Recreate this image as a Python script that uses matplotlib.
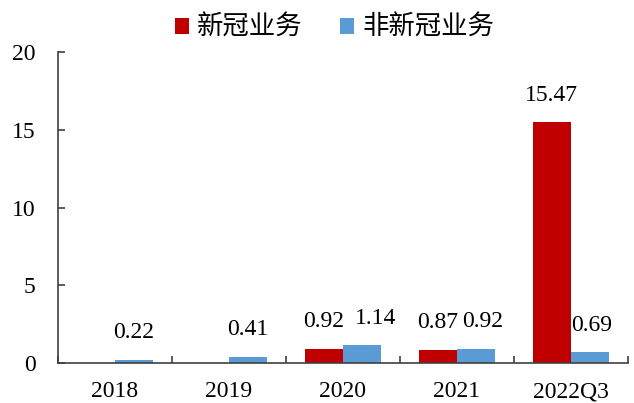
import matplotlib.pyplot as plt
import numpy as np

plt.rcParams['font.family'] = ['Liberation Serif', 'Noto Sans CJK SC']

categories = ['2018', '2019', '2020', '2021', '2022Q3']
covid = [None, None, 0.92, 0.87, 15.47]
non_covid = [0.22, 0.41, 1.14, 0.92, 0.69]
series_names = ['新冠业务', '非新冠业务']

red = '#C00000'
blue = '#5B9BD5'

# labels nudged sideways (points) where two values sit close together
non_covid_shift = [0, 0, 10, 5, 1]

fig = plt.figure(figsize=(6.34, 4.03), dpi=100)
ax = fig.add_axes([0.0915, 0.099, 0.899, 0.772])

x = np.arange(len(categories))
w = 0.335

cov_x = [xi for xi, v in zip(x, covid) if v is not None]
cov_v = [v for v in covid if v is not None]
ax.bar(np.array(cov_x) - w / 2, cov_v, w, color=red, label=series_names[0])
ax.bar(x + w / 2, non_covid, w, color=blue, label=series_names[1])

for bx, v in zip(cov_x, cov_v):
    ax.annotate(f'{v:.2f}', (bx - w / 2, v), xytext=(0, 12), textcoords='offset points',
                ha='center', va='bottom', fontsize=17)
for bx, v, dx in zip(x, non_covid, non_covid_shift):
    ax.annotate(f'{v:.2f}', (bx + w / 2, v), xytext=(dx, 12), textcoords='offset points',
                ha='center', va='bottom', fontsize=17)

ax.set_xlim(-0.5, len(categories) - 0.5)
ax.set_ylim(0, 20)
ax.set_yticks([0, 5, 10, 15, 20])
ax.set_xticks(x)
ax.set_xticklabels(categories)
ax.set_xticks(np.arange(len(categories) + 1) - 0.5, minor=True)
ax.tick_params(axis='x', which='major', length=0, pad=13, labelsize=17)
ax.tick_params(axis='x', which='minor', length=5, direction='in', width=1.2, color='#404040')
ax.tick_params(axis='y', length=5, direction='in', width=1.2, pad=16, labelsize=17,
               color='#404040')

for s in ['top', 'right']:
    ax.spines[s].set_visible(False)
for s in ['left', 'bottom']:
    ax.spines[s].set_color('#404040')
    ax.spines[s].set_linewidth(1.2)

ax.legend(loc='upper center', bbox_to_anchor=(0.485, 1.195), ncol=2, frameon=False,
          fontsize=19, handlelength=0.55, handleheight=0.55, handletextpad=0.3,
          columnspacing=1.4)

fig.savefig('out.png', dpi=100)
